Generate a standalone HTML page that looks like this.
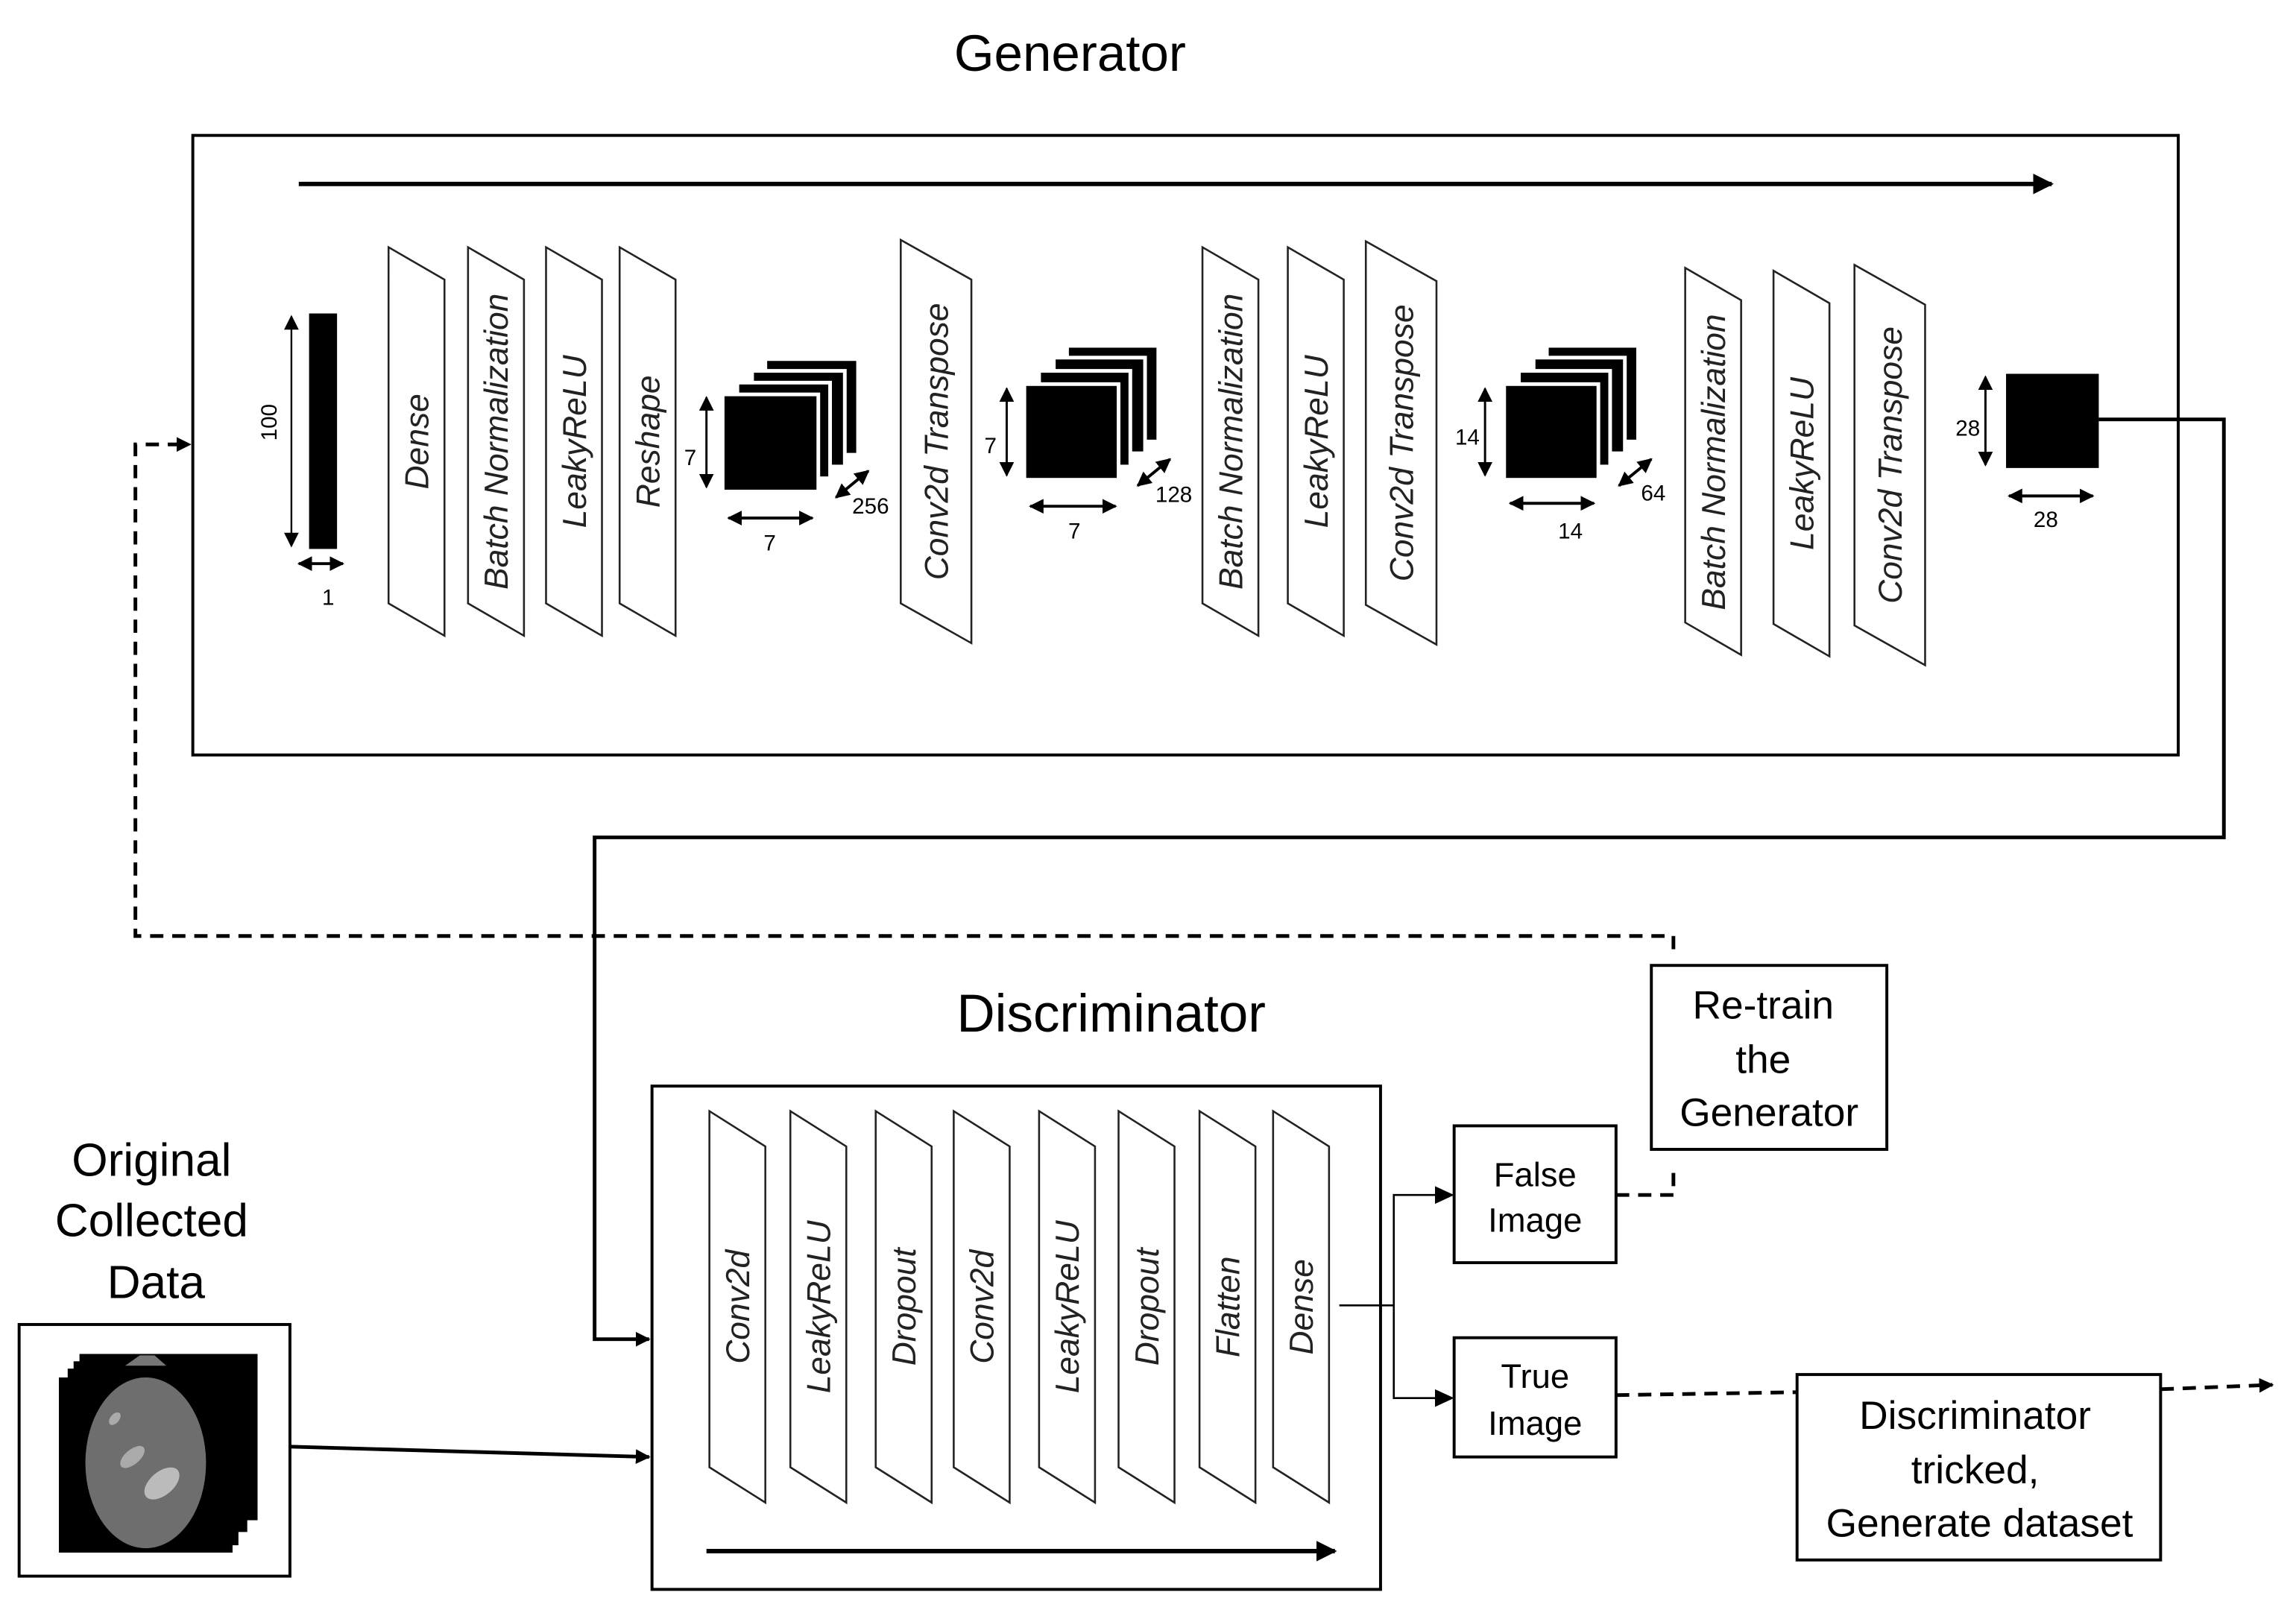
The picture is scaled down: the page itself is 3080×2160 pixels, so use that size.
<!DOCTYPE html>
<html><head><meta charset="utf-8"><style>
html,body{margin:0;padding:0;background:#fff;}
svg{display:block;}
text{font-family:"Liberation Sans Narrow","Liberation Sans",sans-serif;fill:#000;}
.p{fill:#fff;stroke:#222;stroke-width:1.3;}
.pt{font-style:italic;font-size:22.5px;fill:#222;}
.n{font-size:15px;}
</style></head><body>
<svg width="3080" height="2160" viewBox="0 0 1560 1094" preserveAspectRatio="none" xmlns="http://www.w3.org/2000/svg">
<defs>
<marker id="s" viewBox="0 0 10 10" refX="9" refY="5" markerWidth="10" markerHeight="10" orient="auto-start-reverse" markerUnits="userSpaceOnUse"><path d="M0,0 L10,5 L0,10z" fill="#000"/></marker>
<marker id="m" viewBox="0 0 10 10" refX="9" refY="5" markerWidth="14" markerHeight="14" orient="auto-start-reverse" markerUnits="userSpaceOnUse"><path d="M0,0 L10,5 L0,10z" fill="#000"/></marker>
</defs>

<text x="727" y="48" font-size="35" text-anchor="middle">Generator</text>
<rect x="131" y="92" width="1349" height="421" fill="none" stroke="#000" stroke-width="2"/>
<line x1="203" y1="125" x2="1394" y2="125" stroke="#000" stroke-width="3" marker-end="url(#m)"/>

<rect x="210" y="213" width="19" height="160" fill="#000"/>
<line x1="198" y1="215" x2="198" y2="371" stroke="#000" stroke-width="1.2" marker-start="url(#s)" marker-end="url(#s)"/>
<text x="188" y="287" class="n" text-anchor="middle" transform="rotate(-90 188 287)">100</text>
<line x1="203" y1="383" x2="233" y2="383" stroke="#000" stroke-width="2" marker-start="url(#s)" marker-end="url(#s)"/>
<text x="223" y="411" class="n" text-anchor="middle">1</text>

<polygon class="p" points="264,168 302,190 302,432 264,410"/><text class="pt" x="291" y="300" text-anchor="middle" transform="rotate(-90 291 300)">Dense</text>
<polygon class="p" points="318,168 356,190 356,432 318,410"/><text class="pt" x="345" y="300" text-anchor="middle" transform="rotate(-90 345 300)">Batch Normalization</text>
<polygon class="p" points="371,168 409,190 409,432 371,410"/><text class="pt" x="398" y="300" text-anchor="middle" transform="rotate(-90 398 300)">LeakyReLU</text>
<polygon class="p" points="421,168 459,190 459,432 421,410"/><text class="pt" x="448" y="300" text-anchor="middle" transform="rotate(-90 448 300)">Reshape</text>
<polygon class="p" points="612,163 660,190 660,437 612,410"/><text class="pt" x="644" y="300" text-anchor="middle" transform="rotate(-90 644 300)">Conv2d Transpose</text>
<polygon class="p" points="817,168 855,190 855,432 817,410"/><text class="pt" x="844" y="300" text-anchor="middle" transform="rotate(-90 844 300)">Batch Normalization</text>
<polygon class="p" points="875,168 913,190 913,432 875,410"/><text class="pt" x="902" y="300" text-anchor="middle" transform="rotate(-90 902 300)">LeakyReLU</text>
<polygon class="p" points="928,164 976,191 976,438 928,411"/><text class="pt" x="960" y="301" text-anchor="middle" transform="rotate(-90 960 301)">Conv2d Transpose</text>
<polygon class="p" points="1145,182 1183,204 1183,445 1145,423"/><text class="pt" x="1172" y="314" text-anchor="middle" transform="rotate(-90 1172 314)">Batch Normalization</text>
<polygon class="p" points="1205,184 1243,206 1243,446 1205,424"/><text class="pt" x="1232" y="315" text-anchor="middle" transform="rotate(-90 1232 315)">LeakyReLU</text>
<polygon class="p" points="1260,180 1308,207 1308,452 1260,425"/><text class="pt" x="1292" y="316" text-anchor="middle" transform="rotate(-90 1292 316)">Conv2d Transpose</text>

<g stroke="#fff" stroke-width="2.5">
<rect x="520" y="244" width="63" height="65" fill="#000"/>
<rect x="511" y="252" width="63" height="65" fill="#000"/>
<rect x="501" y="260" width="63" height="65" fill="#000"/>
<rect x="491" y="268" width="65" height="66" fill="#000"/>
</g>
<line x1="480" y1="270" x2="480" y2="331" stroke="#000" stroke-width="1.5" marker-start="url(#s)" marker-end="url(#s)"/>
<text x="469" y="316" class="n" text-anchor="middle">7</text>
<line x1="495" y1="352" x2="552" y2="352" stroke="#000" stroke-width="2" marker-start="url(#s)" marker-end="url(#s)"/>
<text x="523" y="374" class="n" text-anchor="middle">7</text>
<line x1="568" y1="338" x2="590" y2="320" stroke="#000" stroke-width="2" marker-start="url(#s)" marker-end="url(#s)"/>
<text x="579" y="349" class="n">256</text>

<g stroke="#fff" stroke-width="2.5">
<rect x="725" y="235" width="62" height="65" fill="#000"/>
<rect x="716" y="243" width="62" height="65" fill="#000"/>
<rect x="706" y="252" width="62" height="65" fill="#000"/>
<rect x="696" y="261" width="64" height="65" fill="#000"/>
</g>
<line x1="684" y1="264" x2="684" y2="323" stroke="#000" stroke-width="1.5" marker-start="url(#s)" marker-end="url(#s)"/>
<text x="673" y="308" class="n" text-anchor="middle">7</text>
<line x1="700" y1="344" x2="758" y2="344" stroke="#000" stroke-width="2" marker-start="url(#s)" marker-end="url(#s)"/>
<text x="730" y="366" class="n" text-anchor="middle">7</text>
<line x1="773" y1="330" x2="795" y2="312" stroke="#000" stroke-width="2" marker-start="url(#s)" marker-end="url(#s)"/>
<text x="785" y="341" class="n">128</text>

<g stroke="#fff" stroke-width="2.5">
<rect x="1051" y="235" width="62" height="65" fill="#000"/>
<rect x="1042" y="243" width="62" height="65" fill="#000"/>
<rect x="1032" y="252" width="62" height="65" fill="#000"/>
<rect x="1022" y="261" width="64" height="65" fill="#000"/>
</g>
<line x1="1009" y1="264" x2="1009" y2="323" stroke="#000" stroke-width="1.5" marker-start="url(#s)" marker-end="url(#s)"/>
<text x="997" y="302" class="n" text-anchor="middle">14</text>
<line x1="1026" y1="342" x2="1083" y2="342" stroke="#000" stroke-width="2" marker-start="url(#s)" marker-end="url(#s)"/>
<text x="1067" y="366" class="n" text-anchor="middle">14</text>
<line x1="1100" y1="330" x2="1122" y2="312" stroke="#000" stroke-width="2" marker-start="url(#s)" marker-end="url(#s)"/>
<text x="1115" y="340" class="n">64</text>

<rect x="1363" y="254" width="63" height="64" fill="#000"/>
<line x1="1349" y1="256" x2="1349" y2="316" stroke="#000" stroke-width="1.5" marker-start="url(#s)" marker-end="url(#s)"/>
<text x="1337" y="296" class="n" text-anchor="middle">28</text>
<line x1="1365" y1="337" x2="1422" y2="337" stroke="#000" stroke-width="2" marker-start="url(#s)" marker-end="url(#s)"/>
<text x="1390" y="358" class="n" text-anchor="middle">28</text>

<polyline points="1426,285 1511,285 1511,569 404,569 404,910 441,910" fill="none" stroke="#000" stroke-width="2.5" marker-end="url(#s)"/>

<polyline points="1098,812 1137,812 1137,794" fill="none" stroke="#000" stroke-width="2.5" stroke-dasharray="9,6"/>
<polyline points="1137,645 1137,636 92,636 92,302 129,302" fill="none" stroke="#000" stroke-width="2.5" stroke-dasharray="9,6" marker-end="url(#s)"/>

<text x="755" y="701" font-size="36" text-anchor="middle">Discriminator</text>
<rect x="443" y="738" width="495" height="342" fill="none" stroke="#000" stroke-width="2"/>
<polygon class="p" points="482,755 520,779 520,1021 482,997"/><text class="pt" x="509" y="888" text-anchor="middle" transform="rotate(-90 509 888)">Conv2d</text>
<polygon class="p" points="537,755 575,779 575,1021 537,997"/><text class="pt" x="564" y="888" text-anchor="middle" transform="rotate(-90 564 888)">LeakyReLU</text>
<polygon class="p" points="595,755 633,779 633,1021 595,997"/><text class="pt" x="622" y="888" text-anchor="middle" transform="rotate(-90 622 888)">Dropout</text>
<polygon class="p" points="648,755 686,779 686,1021 648,997"/><text class="pt" x="675" y="888" text-anchor="middle" transform="rotate(-90 675 888)">Conv2d</text>
<polygon class="p" points="706,755 744,779 744,1021 706,997"/><text class="pt" x="733" y="888" text-anchor="middle" transform="rotate(-90 733 888)">LeakyReLU</text>
<polygon class="p" points="760,755 798,779 798,1021 760,997"/><text class="pt" x="787" y="888" text-anchor="middle" transform="rotate(-90 787 888)">Dropout</text>
<polygon class="p" points="815,755 853,779 853,1021 815,997"/><text class="pt" x="842" y="888" text-anchor="middle" transform="rotate(-90 842 888)">Flatten</text>
<polygon class="p" points="865,755 903,779 903,1021 865,997"/><text class="pt" x="892" y="888" text-anchor="middle" transform="rotate(-90 892 888)">Dense</text>
<line x1="480" y1="1054" x2="907" y2="1054" stroke="#000" stroke-width="3" marker-end="url(#m)"/>

<polyline points="910,887 947,887" fill="none" stroke="#000" stroke-width="1.3"/>
<polyline points="986,812 947,812 947,950 986,950" fill="none" stroke="#000" stroke-width="1.3"/>
<path d="M975,806 L988,812 L975,818z M975,944 L988,950 L975,956z" fill="#000"/>
<rect x="988" y="765" width="110" height="93" fill="#fff" stroke="#000" stroke-width="2"/>
<text x="1043" y="806" font-size="23" text-anchor="middle">False</text>
<text x="1043" y="837" font-size="23" text-anchor="middle">Image</text>
<rect x="988" y="909" width="110" height="81" fill="#fff" stroke="#000" stroke-width="2"/>
<text x="1043" y="943" font-size="23" text-anchor="middle">True</text>
<text x="1043" y="975" font-size="23" text-anchor="middle">Image</text>
<rect x="1122" y="656" width="160" height="125" fill="#fff" stroke="#000" stroke-width="2"/>
<text x="1198" y="692" font-size="27" text-anchor="middle">Re-train</text>
<text x="1198" y="729" font-size="27" text-anchor="middle">the</text>
<text x="1202" y="765" font-size="27" text-anchor="middle">Generator</text>
<rect x="1221" y="934" width="247" height="126" fill="#fff" stroke="#000" stroke-width="2"/>
<text x="1342" y="971" font-size="27" text-anchor="middle">Discriminator</text>
<text x="1342" y="1008" font-size="27" text-anchor="middle">tricked,</text>
<text x="1345" y="1044" font-size="27" text-anchor="middle">Generate dataset</text>
<line x1="1098" y1="948" x2="1221" y2="946" stroke="#000" stroke-width="2.5" stroke-dasharray="9,6"/>
<line x1="1468" y1="944" x2="1544" y2="941" stroke="#000" stroke-width="2.5" stroke-dasharray="9,6" marker-end="url(#s)"/>

<text x="103" y="799" font-size="31.5" text-anchor="middle">Original</text>
<text x="103" y="840" font-size="31.5" text-anchor="middle">Collected</text>
<text x="106" y="882" font-size="31.5" text-anchor="middle">Data</text>
<rect x="13" y="900" width="184" height="171" fill="#fff" stroke="#000" stroke-width="2"/>
<g>
<rect x="54" y="920" width="121" height="113" fill="#000"/>
<rect x="50" y="925" width="118" height="116" fill="#000"/>
<rect x="46" y="930" width="116" height="120" fill="#000"/>
<rect x="40" y="936" width="118" height="119" fill="#000"/>
<path d="M95,921 L105,921 L113,928 L85,928z" fill="#777"/>
<ellipse cx="99" cy="994" rx="41" ry="58" fill="#6e6e6e"/>
<ellipse cx="110" cy="1008" rx="14" ry="8" fill="#bbb" transform="rotate(-40 110 1008)"/>
<ellipse cx="90" cy="990" rx="10" ry="5" fill="#aaa" transform="rotate(-40 90 990)"/>
<ellipse cx="78" cy="964" rx="5" ry="3" fill="#aaa" transform="rotate(-50 78 964)"/>
</g>
<line x1="197" y1="983" x2="441" y2="990" stroke="#000" stroke-width="2.5" marker-end="url(#s)"/>
</svg>
</body></html>
